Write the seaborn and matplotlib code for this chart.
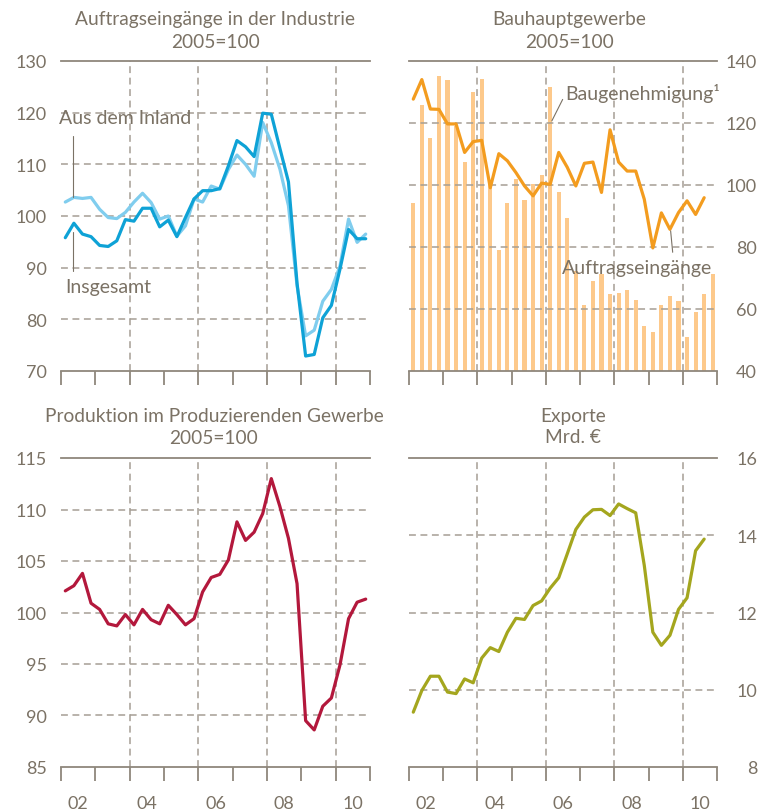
import numpy as np
import pandas as pd
import matplotlib
matplotlib.use("Agg")
import matplotlib.pyplot as plt
import seaborn as sns

# ---------------- data ----------------
quarters = pd.period_range("2002Q1", "2010Q4", freq="Q")
xq = np.asarray(quarters.year + (quarters.quarter - 0.5) / 4.0, dtype=float)

# Auftragseingänge in der Industrie, 2005=100
orders_total = [95.8, 98.6, 96.5, 96.0, 94.3, 94.1, 95.2, 99.3, 99.0, 101.5,
                101.5, 97.9, 99.2, 96.0, 99.7, 103.3, 104.9, 104.9, 105.3, 109.7,
                114.6, 113.4, 111.5, 119.9, 119.7, 113.1, 106.6, 87.0, 72.9, 73.2,
                80.3, 82.7, 89.7, 97.4, 95.6, 95.6]
orders_domestic = [102.7, 103.6, 103.4, 103.6, 101.3, 99.7, 99.5, 100.7, 102.7, 104.4,
                   102.6, 99.4, 100.0, 96.1, 98.1, 103.3, 102.7, 105.8, 105.2, 109.0,
                   111.8, 110.0, 107.7, 118.1, 114.2, 109.1, 102.0, 86.5, 76.8, 77.9,
                   83.5, 85.8, 90.3, 99.4, 94.9, 96.5]

# Bauhauptgewerbe, 2005=100
building_permits = [94.1, 125.8, 115.1, 135.2, 133.9, 119.0, 107.4, 130.0, 134.2, 101.0,
                    79.0, 94.1, 101.9, 95.1, 100.3, 103.2, 131.6, 97.7, 89.3, 72.4,
                    61.3, 69.1, 71.3, 64.8, 65.3, 66.1, 62.9, 54.4, 52.5, 61.3,
                    64.1, 62.5, 50.9, 59.0, 64.8, 71.2]
construction_orders = [127.7, 134.0, 124.5, 124.4, 119.7, 119.7, 110.5, 114.0, 114.4, 99.1,
                       110.1, 107.8, 104.0, 99.7, 96.5, 100.6, 100.2, 110.5, 105.7, 99.7,
                       107.0, 107.4, 97.6, 117.8, 107.4, 104.5, 104.5, 95.4, 79.7, 91.0,
                       85.7, 91.1, 94.9, 90.5, 95.9]

# Produktion im Produzierenden Gewerbe, 2005=100
production = [102.1, 102.6, 103.8, 100.9, 100.3, 98.9, 98.7, 99.8, 98.8, 100.3,
              99.3, 98.9, 100.7, 99.8, 98.8, 99.4, 102.0, 103.4, 103.7, 105.1,
              108.8, 107.0, 107.8, 109.6, 113.0, 110.3, 107.2, 102.8, 89.5, 88.6,
              90.9, 91.7, 94.9, 99.4, 101.0, 101.3]

# Exporte, Mrd. €
exports = [9.42, 9.98, 10.35, 10.35, 9.94, 9.90, 10.28, 10.18, 10.82, 11.09,
           10.99, 11.49, 11.85, 11.82, 12.18, 12.30, 12.63, 12.90, 13.52, 14.15,
           14.47, 14.66, 14.67, 14.51, 14.81, 14.69, 14.58, 13.22, 11.49, 11.15,
           11.41, 12.08, 12.38, 13.60, 13.90]

year_ticks = list(range(2002, 2012))
year_grid = [2004, 2006, 2008, 2010]
year_label_pos = [2002.5, 2004.5, 2006.5, 2008.5, 2010.5]
year_labels = ["02", "04", "06", "08", "10"]

# ---------------- style ----------------
sns.set_theme(style="white")
plt.rcParams['font.family'] = ['Lato', 'DejaVu Sans']

TXT = "#7b7265"
GRID = "#a59e94"
SPINE = "#8f877c"
C_DARK = "#0ea2d6"
C_LIGHT = "#80cdee"
C_ORANGE = "#f39c1f"
C_BAR = "#fdc98b"
C_RED = "#b3183c"
C_GREEN = "#a4a61e"
LW = 2.3
FS_TICK = 13
FS_TITLE = 13.8
FS_ANN = 14

W, H = 760, 812
fig = plt.figure(figsize=(W / 100, H / 100), dpi=100)
fig.patch.set_facecolor("white")


def make_axes(l, t, r, b):
    return fig.add_axes([l / W, 1 - b / H, (r - l) / W, (b - t) / H])


def ftext(x, y, s, **kw):
    fig.text(x / W, 1 - y / H, s, ha="center", va="center", color=TXT,
             fontsize=FS_TITLE, **kw)


def style(ax, ylim, yticks, right=False, xlabels=False):
    ax.set_xlim(2002, 2011)
    ax.set_ylim(*ylim)
    ax.set_xlabel("")
    ax.set_ylabel("")
    ax.set_facecolor("none")
    for s in ("left", "right"):
        ax.spines[s].set_visible(False)
    for s in ("top", "bottom"):
        ax.spines[s].set_visible(True)
        ax.spines[s].set_color(SPINE)
        ax.spines[s].set_linewidth(1.3)
        ax.spines[s].set_zorder(4)
    ax.set_xticks(year_ticks)
    ax.set_xticklabels([])
    ax.set_xticks(year_label_pos, minor=True)
    ax.set_xticklabels(year_labels if xlabels else [""] * len(year_labels), minor=True)
    ax.tick_params(axis="x", which="major", direction="out", length=10, width=1.3,
                   color=SPINE, bottom=True, top=False)
    ax.tick_params(axis="x", which="minor", length=0, pad=20, labelsize=FS_TICK,
                   labelcolor=TXT, bottom=True, top=False)
    ax.set_yticks(yticks)
    if right:
        ax.yaxis.tick_right()
        ax.set_yticklabels([str(v) for v in yticks], ha="right")
        ax.tick_params(axis="y", length=0, pad=28.8, labelsize=FS_TICK, labelcolor=TXT,
                       left=False, right=True)
    else:
        ax.set_yticklabels([str(v) for v in yticks])
        ax.tick_params(axis="y", length=0, pad=10.4, labelsize=FS_TICK, labelcolor=TXT)
    for v in yticks[1:-1]:
        ax.axhline(v, color=GRID, lw=1.1, ls=(0, (4.5, 3)), zorder=1.5)
    for yr in year_grid:
        ax.axvline(yr, color=GRID, lw=1.1, ls=(0, (4.5, 3)), zorder=1.5)
    ax.grid(False)


# ---------------- top-left: Auftragseingänge ----------------
ax1 = make_axes(61, 62, 370, 372)
sns.lineplot(x=xq[:len(orders_domestic)], y=orders_domestic, ax=ax1, color=C_LIGHT,
             linewidth=LW, zorder=3)
sns.lineplot(x=xq[:len(orders_total)], y=orders_total, ax=ax1, color=C_DARK,
             linewidth=LW, zorder=3.5)
style(ax1, (70, 130), [70, 80, 90, 100, 110, 120, 130])
ax1.text(2001.94, 119, "Aus dem Inland", color=TXT, fontsize=FS_ANN, va="center",
         ha="left", zorder=5)
ax1.plot([xq[1] - 0.03, xq[1] - 0.03], [115.4, orders_domestic[1]], color=TXT, lw=0.8, zorder=5)
ax1.text(2002.12, 86.4, "Insgesamt", color=TXT, fontsize=FS_ANN, va="center",
         ha="left", zorder=5)
ax1.plot([xq[1] - 0.03, xq[1] - 0.03], [89.3, orders_total[1] - 1.7], color=TXT, lw=0.8, zorder=5)
ftext(215, 20, "Auftragseingänge in der Industrie")
ftext(215, 42, "2005=100")

# ---------------- top-right: Bauhauptgewerbe ----------------
ax2 = make_axes(409, 62, 717, 372)
sns.barplot(x=xq[:len(building_permits)], y=building_permits, ax=ax2, native_scale=True,
            color=C_BAR, saturation=1, width=0.47, errorbar=None, edgecolor="none",
            linewidth=0, zorder=1)
sns.lineplot(x=xq[:len(construction_orders)], y=construction_orders, ax=ax2,
             color=C_ORANGE, linewidth=LW, zorder=3)
style(ax2, (40, 140), [40, 60, 80, 100, 120, 140], right=True)
ax2.text(2006.57, 129.7, "Baugenehmigung\u00b9", color=TXT, fontsize=FS_ANN,
         va="center", ha="left", zorder=5)
ax2.plot([2006.49, xq[16] + 0.05], [127.6, 120.7], color=TXT, lw=0.8, zorder=5)
ax2.text(2006.48, 73.5, "Auftragseingänge", color=TXT, fontsize=FS_ANN,
         va="center", ha="left", zorder=5)
ax2.plot([xq[30] + 0.02, xq[30] + 0.08], [construction_orders[30] - 0.5, 78.3],
         color=TXT, lw=0.8, zorder=5)
ftext(569, 20, "Bauhauptgewerbe")
ftext(569, 42, "2005=100")

# ---------------- bottom-left: Produktion ----------------
ax3 = make_axes(61, 459, 370, 768)
sns.lineplot(x=xq[:len(production)], y=production, ax=ax3, color=C_RED,
             linewidth=LW, zorder=3)
style(ax3, (85, 115), [85, 90, 95, 100, 105, 110, 115], xlabels=True)
ftext(214, 417, "Produktion im Produzierenden Gewerbe")
ftext(214, 439, "2005=100")

# ---------------- bottom-right: Exporte ----------------
ax4 = make_axes(409, 459, 717, 768)
sns.lineplot(x=xq[:len(exports)], y=exports, ax=ax4, color=C_GREEN,
             linewidth=LW, zorder=3)
style(ax4, (8, 16), [8, 10, 12, 14, 16], right=True, xlabels=True)
ftext(573, 417, "Exporte")
ftext(573, 438, "Mrd. \u20ac")

fig.savefig("out.png", dpi=100, facecolor="white")
